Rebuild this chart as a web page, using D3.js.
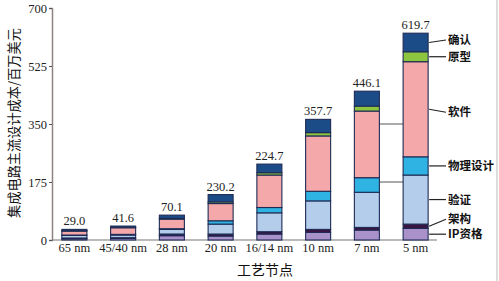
<!DOCTYPE html>
<html lang="zh">
<head>
<meta charset="UTF-8">
<title>集成电路设计成本</title>
<style>
  body { margin: 0; background: #fff; }
  svg { display: block; }
  .num { font-family: 'Liberation Serif', 'Times New Roman', serif; font-size: 12.5px; fill: #222; }
  .cjk { font-family: 'Noto Sans CJK SC', sans-serif; fill: #111; }
</style>
<script src="https://d3js.org/d3.v7.min.js"></script>
</head>
<body>
<svg id="chart" width="499" height="281"></svg>
<script>
// categories and stacked segment values (bottom to top)
const nodes = ["65 nm", "45/40 nm", "28 nm", "20 nm", "16/14 nm", "10 nm", "7 nm", "5 nm"];
const totals = ["29.0", "41.6", "70.1", "230.2", "224.7", "357.7", "446.1", "619.7"];
const keys = ["IP资格", "架构", "验证", "物理设计", "软件", "原型", "确认"];
const ip       = [4, 5, 13, 12, 18, 23, 30, 35];
const arch     = [2, 2, 5, 6, 7, 9, 8, 13];
const verify   = [8, 8, 14, 30, 57, 86, 106, 148];
const physical = [1, 2, 2, 10, 16, 29, 44, 55];
const software = [12, 20, 29, 52, 98, 167, 201, 287];
const proto    = [1, 1, 2, 5, 7, 10, 15, 30];
const confirm  = [4, 4, 10, 22, 26, 40, 45, 56];
const yTicks = [0, 175, 350, 525, 700];
const colors = ["#a991c9", "#3a1440", "#b3cdea", "#2fb3e3", "#f5a8a9", "#8dc540", "#1b4c88"];

const svg = d3.select("#chart");
const series = [ip, arch, verify, physical, software, proto, confirm];
const rows = nodes.map((n, i) => {
  const r = { node: n };
  keys.forEach((k, j) => r[k] = series[j][i]);
  return r;
});

const x = d3.scaleBand().domain(nodes).range([50, 440]).paddingInner(0.487).paddingOuter(0.2435);
const y = d3.scaleLinear().domain([0, 700]).range([240, 8]);
const color = d3.scaleOrdinal().domain(keys).range(colors);

// frame line on the right
svg.append("line").attr("x1", 497).attr("x2", 497).attr("y1", 0).attr("y2", 281)
  .attr("stroke", "#bbb").attr("stroke-width", 1);

// y axis
const yAxis = svg.append("g").attr("transform", "translate(52,0)")
  .call(d3.axisLeft(y).tickValues(yTicks).tickSize(3).tickPadding(2));
yAxis.select(".domain").attr("stroke", "#8f8282").attr("stroke-width", 1.5);
yAxis.selectAll(".tick line").attr("stroke", "#555");
yAxis.selectAll(".tick text").attr("class", "num").attr("font-size", 13).attr("fill", "#222");

// x axis baseline
svg.append("line").attr("x1", 52).attr("x2", 437).attr("y1", y(0)).attr("y2", y(0))
  .attr("stroke", "#777").attr("stroke-width", 1.2);

// remnant lines between 7 nm and 5 nm
[175, 350].forEach(v => {
  svg.append("line")
    .attr("x1", x("7 nm") + x.bandwidth()).attr("x2", x("5 nm"))
    .attr("y1", y(v)).attr("y2", y(v))
    .attr("stroke", "#555").attr("stroke-width", 1);
});

// stacked bars
const stacked = d3.stack().keys(keys)(rows);
svg.append("g").selectAll("g").data(stacked).join("g")
  .attr("fill", d => color(d.key))
  .selectAll("rect").data(d => d).join("rect")
  .attr("x", d => x(d.data.node))
  .attr("y", d => y(d[1]))
  .attr("width", x.bandwidth())
  .attr("height", d => y(d[0]) - y(d[1]))
  .attr("stroke", "#1e2b55")
  .attr("stroke-width", 1.1);

// total labels
const tops = rows.map(r => d3.sum(keys, k => r[k]));
svg.append("g").selectAll("text").data(nodes).join("text")
  .attr("class", "num")
  .attr("x", d => x(d) + x.bandwidth() / 2)
  .attr("y", (d, i) => y(tops[i]) - 4)
  .attr("text-anchor", "middle")
  .text((d, i) => totals[i]);

// category labels
svg.append("g").selectAll("text").data(nodes).join("text")
  .attr("class", "num")
  .attr("x", d => x(d) + x.bandwidth() / 2)
  .attr("y", 252)
  .attr("text-anchor", "middle")
  .text(d => d);

// legend with leader lines from the 5 nm bar
const last = stacked.map(s => s[nodes.length - 1]);
const bx = x("5 nm") + x.bandwidth();
const labelShift = { "确认": -2.5, "软件": 3, "架构": -7 };
last.forEach((seg, j) => {
  const k = keys[j];
  const ym = (y(seg[0]) + y(seg[1])) / 2;
  const yl = ym + (labelShift[k] || 0);
  svg.append("line")
    .attr("x1", bx + 1).attr("y1", ym)
    .attr("x2", 446).attr("y2", yl)
    .attr("stroke", "#222").attr("stroke-width", 1.2);
  svg.append("text")
    .attr("class", "cjk")
    .attr("x", 448).attr("y", yl + 4)
    .attr("font-size", 11.5)
    .attr("font-weight", 700)
    .text(k);
});

// axis titles
svg.append("text").attr("class", "cjk")
  .attr("x", 265).attr("y", 275)
  .attr("text-anchor", "middle")
  .attr("font-size", 14)
  .text("工艺节点");

svg.append("text").attr("class", "cjk")
  .attr("transform", "translate(19,123) rotate(-90)")
  .attr("text-anchor", "middle")
  .attr("font-size", 13.2)
  .text("集成电路主流设计成本/百万美元");
</script>
</body>
</html>
